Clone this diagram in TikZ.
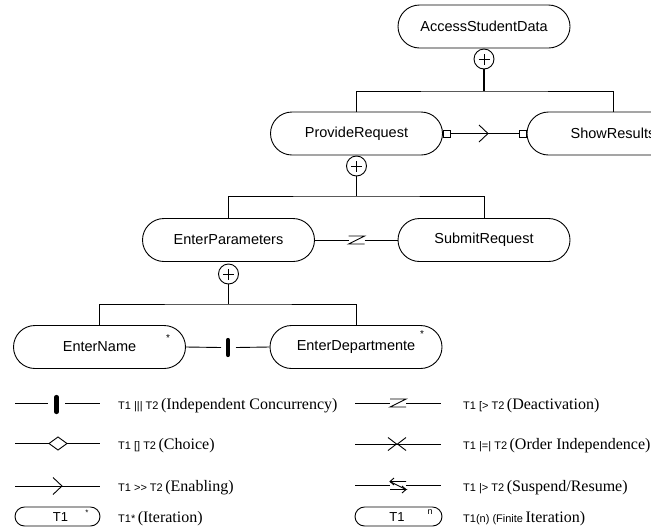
\documentclass[tikz,border=0pt]{standalone}
\usepackage{fontspec}
\setmainfont{Liberation Serif}
\newfontfamily\arial{Liberation Sans}
\usetikzlibrary{calc}
\begin{document}
\begin{tikzpicture}[x=1pt,y=-1pt,
  task/.style={draw, line width=0.9pt, rounded corners=21.5pt,
    minimum width=172pt, minimum height=43pt, inner sep=0pt,
    font=\arial\fontsize{14.5}{17}\selectfont},
  plusnode/.style={draw, circle, line width=0.9pt, minimum size=20pt, inner sep=0pt,
    path picture={
      \draw[line width=0.9pt] ([xshift=-5.5pt]path picture bounding box.center) -- ([xshift=5.5pt]path picture bounding box.center);
      \draw[line width=0.9pt] ([yshift=-5.5pt]path picture bounding box.center) -- ([yshift=5.5pt]path picture bounding box.center);}},
  sq/.style={draw, line width=0.9pt, minimum size=7pt, inner sep=0pt, fill=white},
  stem/.style={line width=1.6pt},
  branch/.style={line width=1pt},
  link/.style={line width=0.9pt},
  itbox/.style={draw, line width=0.9pt, rounded corners=9.5pt, minimum height=19pt, inner sep=0pt},
  legtext/.style={anchor=base west, inner sep=0pt},
  % operator symbols, drawn around the origin
  pics/enab/.style={code={\draw[link] (-9,-8.5) -- (0,0) -- (-9,8.5);}},
  pics/deact/.style={code={\draw[link] (-8,-4) -- (8,-4) -- (-8,4) -- (8,4);}},
  pics/susp/.style={code={
    \draw[link] (8,-4) -- (-8,-4) (-8,-4) -- (8,4) -- (-8,4) ;
    \draw[link] (-4,-7.5) -- (-8,-4) -- (-4,-0.5);
    \draw[link] (4,0.5) -- (8,4) -- (4,7.5);}},
  pics/ordind/.style={code={\draw[link] (-9,-6.5) -- (-0.5,0) -- (-9,6.5) (9,-6.5) -- (0.5,0) -- (9,6.5);}},
  pics/choice/.style={code={\draw[link, fill=white] (-9,0) -- (0,-6.5) -- (9,0) -- (0,6.5) -- cycle;}},
  pics/conc/.style={code={\draw[line width=4.2pt, line cap=round] (0,-7.5) -- (0,7.5);}},
]
\useasboundingbox (0,0) rectangle (651,531);
\clip (0,0) rectangle (651,531);

% task tree
\node[task] (asd) at (484,26.5) {AccessStudentData};
\node[plusnode] (p1) at (484,59) {};
\node[task] (pr) at (356.5,133.5) {ProvideRequest};
\node[task] (sr) at (613,133.5) {ShowResults};
\node[plusnode] (p2) at (356.5,166) {};
\node[task] (ep) at (228.5,240) {EnterParameters};
\node[task] (sub) at (484,240) {SubmitRequest};
\node[plusnode] (p3) at (228.5,274) {};
\node[task] (en) at (99.5,347) {EnterName};
\node[task] (ed) at (356,347) {EnterDepartmente};
\node[font=\arial\fontsize{10}{11}\selectfont, inner sep=0pt] (st1) at (168,338) {*};
\node[font=\arial\fontsize{10}{11}\selectfont, inner sep=0pt] (st2) at (422,334) {*};

\coordinate (j1) at (484,91);
\coordinate (j2) at (356.5,196);
\coordinate (j3) at (228.5,304);
\draw[stem] (p1.south) -- (j1);
\draw[branch] (pr.north) |- (j1) -| (sr.north);
\draw[stem] (p2.south) -- (j2);
\draw[branch] (ep.north) |- (j2) -| (sub.north);
\draw[stem] (p3.south) -- (j3);
\draw[branch] (en.north) |- (j3) -| (ed.north);

% enabling with information passing
\node[sq, anchor=west] (q1) at (pr.east) {};
\node[sq, anchor=east] (q2) at (sr.west) {};
\draw[link] (q1) -- (q2);
\pic at (488,133.5) {enab};

% deactivation
\coordinate (z1) at (356.5,240);
\draw[link] (ep.east) -- ([xshift=-8pt]z1);
\draw[link] ([xshift=8pt]z1) -- (sub.west);
\pic at (z1) {deact};

% independent concurrency
\coordinate (b1) at (228,347.5);
\draw[link] (en.east) -- ([xshift=-7pt]b1);
\draw[link] ([xshift=8pt]b1) -- (ed.west);
\pic at (b1) {conc};

% legend, left column
\coordinate (la1) at (15,403.5); \coordinate (lb1) at (100,403.5);
\draw[link] (la1) -- (48,403.5) (65,403.5) -- (lb1);
\pic at (56.5,404.5) {conc};
\node[legtext] (t1) at (118,409) {{\arial\fontsize{11}{13}\selectfont T1 ||| T2} {\fontsize{16}{18}\selectfont (Independent Concurrency)}};

\coordinate (la2) at (15,443.5); \coordinate (lb2) at (100,443.5);
\draw[link] (la2) -- (lb2);
\pic at (58,443.5) {choice};
\node[legtext] (t2) at (118,449.5) {{\arial\fontsize{11}{13}\selectfont T1 [] T2} {\fontsize{16}{18}\selectfont (Choice)}};

\coordinate (la3) at (15,486); \coordinate (lb3) at (100,486);
\draw[link] (la3) -- (lb3);
\pic at (62,486) {enab};
\node[legtext] (t3) at (118,491) {{\arial\fontsize{11}{13}\selectfont T1 >> T2} {\fontsize{16}{18}\selectfont (Enabling)}};

\node[itbox, minimum width=85pt] (it1) at (57.5,516.5) {};
\node[font=\arial\fontsize{13}{15}\selectfont, inner sep=0pt] (it1t) at (60.5,517) {T1};
\node[font=\arial\fontsize{8}{9}\selectfont, inner sep=0pt] (it1s) at (87,512.5) {*};
\node[legtext] (t4) at (118,522) {{\arial\fontsize{11}{13}\selectfont T1*} {\fontsize{16}{18}\selectfont (Iteration)}};

% legend, right column
\coordinate (ra1) at (355,403); \coordinate (rb1) at (441,403);
\draw[link] (ra1) -- (390,403) (406,403) -- (rb1);
\pic at (398,403) {deact};
\node[legtext] (u1) at (463,409) {{\arial\fontsize{11}{13}\selectfont T1 [> T2} {\fontsize{16}{18}\selectfont (Deactivation)}};

\coordinate (ra2) at (355,444); \coordinate (rb2) at (441,444);
\draw[link] (ra2) -- (rb2);
\pic at (397,444) {ordind};
\node[legtext] (u2) at (463,449.5) {{\arial\fontsize{11}{13}\selectfont T1 |=| T2} {\fontsize{16}{18}\selectfont (Order Independence)}};

\coordinate (ra3) at (355,485.5); \coordinate (rb3) at (441,485.5);
\draw[link] (ra3) -- (390,485.5) (406,485.5) -- (rb3);
\pic at (398,485.5) {susp};
\node[legtext] (u3) at (463,491) {{\arial\fontsize{11}{13}\selectfont T1 |> T2} {\fontsize{16}{18}\selectfont (Suspend/Resume)}};

\node[itbox, minimum width=87pt] (it2) at (398.5,516.5) {};
\node[font=\arial\fontsize{13}{15}\selectfont, inner sep=0pt] (it2t) at (397,517) {T1};
\node[font=\arial\fontsize{9}{10}\selectfont, inner sep=0pt] (it2n) at (430,512) {n};
\node[legtext] (u4) at (463,522) {{\arial\fontsize{11}{13}\selectfont T1(n) (Finite} {\fontsize{16}{18}\selectfont Iteration)}};
\end{tikzpicture}
\end{document}
